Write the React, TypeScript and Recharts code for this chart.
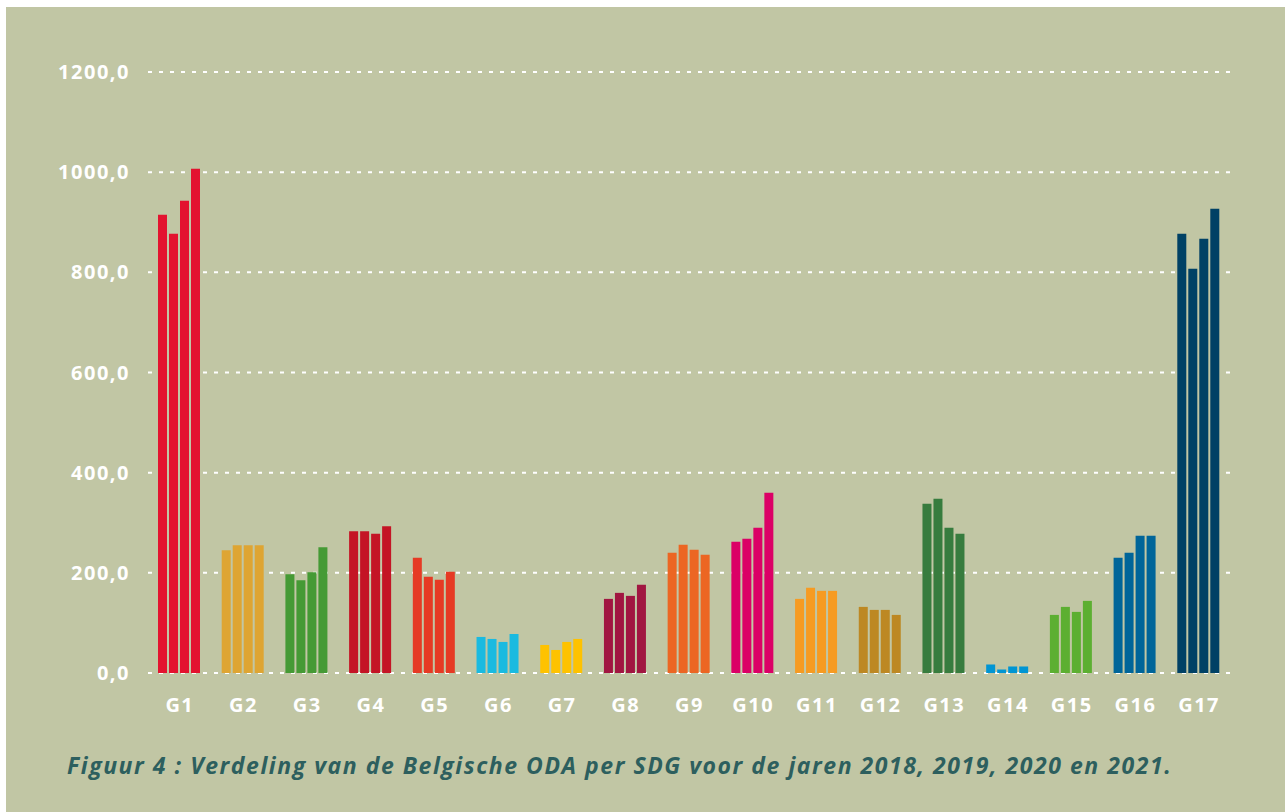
import React from "react";
import {Bar, BarChart, CartesianGrid, Cell, XAxis, YAxis} from "recharts";

const goals = ["G1", "G2", "G3", "G4", "G5", "G6", "G7", "G8", "G9", "G10", "G11", "G12", "G13", "G14", "G15", "G16", "G17"];

const y2018 = [915, 245, 197, 283, 230, 72, 56, 148, 240, 262, 148, 132, 338, 17, 116, 230, 877];
const y2019 = [877, 255, 185, 283, 192, 68, 46, 160, 256, 268, 170, 126, 348, 7, 132, 240, 807];
const y2020 = [943, 255, 201, 278, 186, 62, 62, 154, 246, 290, 164, 126, 290, 13, 122, 274, 867];
const y2021 = [1007, 255, 251, 293, 202, 78, 68, 176, 236, 360, 164, 116, 278, 13, 144, 274, 927];

const goalColors = [
  "#E3132F", "#DEA533", "#459A35", "#C41425", "#E63A24", "#1ABAE0",
  "#FEC200", "#A11641", "#EC6623", "#DB0066", "#F69B22", "#BD8823",
  "#377C3E", "#0095D3", "#5CAF31", "#006599", "#004165",
];

const yTicks = [0, 200, 400, 600, 800, 1000, 1200];

const caption = "Figuur 4 : Verdeling van de Belgische ODA per SDG voor de jaren 2018, 2019, 2020 en 2021.";

const chartData = goals.map((g, i) => ({
  goal: g,
  y2018: y2018[i],
  y2019: y2019[i],
  y2020: y2020[i],
  y2021: y2021[i],
}));

const series = ["y2018", "y2019", "y2020", "y2021"];

const tickStyle = {
  fill: "#ffffff",
  fontFamily: "'Open Sans', sans-serif",
  fontWeight: 700,
  fontSize: 20,
  letterSpacing: 1.5,
};

const App: React.FC = () => {
  return (
      <div style={{position: "absolute", left: 0, top: 0, width: 1285, height: 812}}>
        <div style={{position: "absolute", left: 6, top: 7, width: 1279, height: 805, background: "#C1C6A4"}}/>
        <div style={{position: "absolute", left: 0, top: 0}}>
          <BarChart
              width={1285}
              height={812}
              data={chartData}
              margin={{top: 72, right: 54, bottom: 99, left: 0}}
              barCategoryGap={10}
              barGap={2}
          >
            <CartesianGrid vertical={false} stroke="#ffffff" strokeWidth={2} strokeDasharray="4 7"/>
            <XAxis dataKey="goal"
                   axisLine={false}
                   tickLine={false}
                   tickSize={0}
                   tickMargin={25}
                   height={40}
                   interval={0}
                   tick={tickStyle}/>
            <YAxis type={"number"}
                   domain={[0, 1200]}
                   ticks={yTicks}
                   width={148}
                   axisLine={false}
                   tickLine={false}
                   tickSize={0}
                   tickMargin={18}
                   tickFormatter={(v: number) => v.toFixed(1).replace(".", ",")}
                   tick={tickStyle}/>
            {series.map((key) => (
                <Bar key={key} dataKey={key} isAnimationActive={false}>
                  {chartData.map((row, i) => (
                      <Cell key={row.goal} fill={goalColors[i]}/>
                  ))}
                </Bar>
            ))}
          </BarChart>
        </div>
        <div style={{
          position: "absolute",
          left: 67,
          top: 749,
          color: "#2D5F5E",
          fontFamily: "'Open Sans', sans-serif",
          fontWeight: 700,
          fontStyle: "italic",
          fontSize: 23,
          letterSpacing: 1.55,
          whiteSpace: "nowrap",
        }}>
          {caption}
        </div>
      </div>
  );
};

export default App;
